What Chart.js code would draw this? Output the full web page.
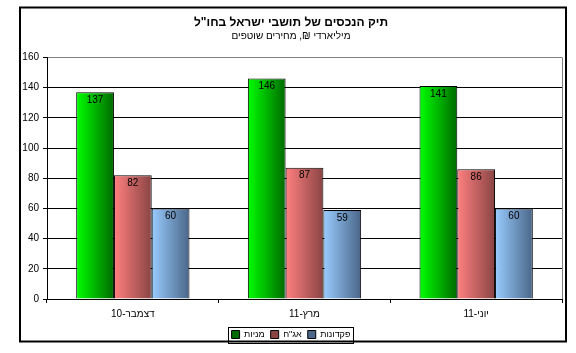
<!DOCTYPE html>
<html>
<head>
<meta charset="utf-8">
<script src="https://cdn.jsdelivr.net/npm/chart.js@4"></script>
<style>
  html, body { margin: 0; padding: 0; background: #fff; }
  #wrap { width: 576px; height: 353px; }
</style>
</head>
<body>
<div id="wrap"><canvas id="holdings-chart"></canvas></div>
<script>
const categories = ["דצמבר-10", "מרץ-11", "יוני-11"];
const stocks = [137, 146, 141];
const bonds = [82, 87, 86];
const deposits = [60, 59, 60];
const seriesNames = ["מניות", "אג\"ח", "פקדונות"];
const yTicks = [0, 20, 40, 60, 80, 100, 120, 140, 160];

const FONT = "Arial, 'Liberation Sans', sans-serif";
const CAT_PCT = 0.66;

// light -> dark colour for each series
const shades = [
  ["#00ff00", "#006a00"],
  ["#ff8080", "#8a4444"],
  ["#99ccff", "#4a6688"],
];

function barGradient(c) {
  const chart = c.chart;
  const x = chart.scales.x;
  if (!chart.chartArea || !x) return shades[c.datasetIndex][0];
  const center = x.getPixelForValue(c.dataIndex);
  const group = (x.width / categories.length) * CAT_PCT;
  const barW = group / 3;
  const left = center - group / 2 + c.datasetIndex * barW;
  const g = chart.ctx.createLinearGradient(left, 0, left + barW, 0);
  g.addColorStop(0, shades[c.datasetIndex][0]);
  g.addColorStop(1, shades[c.datasetIndex][1]);
  return g;
}

// frame, right border, legend box, value labels
const extras = {
  id: "extras",
  afterDraw(chart) {
    const c = chart.ctx;
    const a = chart.chartArea;
    c.save();
    c.strokeStyle = "#808080";
    c.lineWidth = 1;
    c.beginPath();
    c.moveTo(Math.round(a.right) + 0.5, a.top);
    c.lineTo(Math.round(a.right) + 0.5, a.bottom);
    c.stroke();

    c.strokeStyle = "#000";
    c.lineWidth = 2;
    c.strokeRect(20, 7.5, 546, 334);

    const hb = chart.legend.legendHitBoxes;
    if (hb && hb.length) {
      const l = Math.min(...hb.map(h => h.left)) - 4;
      const r = Math.max(...hb.map(h => h.left + h.width)) + 2;
      const t = hb[0].top - 3;
      c.lineWidth = 1;
      c.strokeRect(Math.round(l) + 0.5, Math.round(t) + 0.5, Math.round(r - l), 16);
    }

    c.fillStyle = "#000";
    c.font = "10px " + FONT;
    c.textAlign = "center";
    c.textBaseline = "middle";
    chart.data.datasets.forEach((ds, i) => {
      chart.getDatasetMeta(i).data.forEach((bar, j) => {
        c.fillText(String(ds.data[j]), bar.x, bar.y + 8);
      });
    });
    c.restore();
  }
};

new Chart(document.getElementById("holdings-chart"), {
  type: "bar",
  data: {
    labels: categories,
    datasets: [
      { label: seriesNames[0], data: stocks },
      { label: seriesNames[1], data: bonds },
      { label: seriesNames[2], data: deposits },
    ].map((d, i) => ({
      ...d,
      backgroundColor: barGradient,
      borderColor: "#000",
      borderWidth: 1,
      borderSkipped: "bottom",
      categoryPercentage: CAT_PCT,
      barPercentage: 1,
    })),
  },
  plugins: [extras],
  options: {
    responsive: true,
    maintainAspectRatio: false,
    animation: false,
    layout: { padding: { left: 20, right: 14, top: 8, bottom: 4 } },
    scales: {
      x: {
        grid: { offset: true, drawOnChartArea: false, drawTicks: true, tickLength: 4, color: "#000" },
        border: { color: "#000", width: 1 },
        ticks: { color: "#000", font: { family: FONT, size: 10 }, padding: 5 },
        afterFit: s => { s.height = 25; },
      },
      y: {
        min: 0,
        max: 160,
        afterBuildTicks: s => { s.ticks = yTicks.map(v => ({ value: v })); },
        grid: {
          color: c => (c.tick && c.tick.value === 160 ? "#808080" : "#000"),
          tickLength: 4,
          tickColor: "#000",
        },
        border: { color: "#000", width: 1 },
        ticks: { color: "#000", font: { family: FONT, size: 10 }, padding: 4 },
        afterFit: s => { s.width = 27; },
      },
    },
    plugins: {
      legend: {
        position: "bottom",
        labels: {
          color: "#000",
          font: { family: FONT, size: 9 },
          boxWidth: 8,
          boxHeight: 8,
          padding: 6,
        },
      },
      title: {
        display: true,
        text: "תיק הנכסים של תושבי ישראל בחו\"ל",
        color: "#000",
        font: { family: FONT, size: 12, weight: "bold" },
        padding: { top: 7, bottom: 1 },
      },
      subtitle: {
        display: true,
        text: "מיליארדי ₪, מחירים שוטפים",
        color: "#000",
        font: { family: FONT, size: 10 },
        padding: { top: 0, bottom: 15 },
      },
      tooltip: { enabled: false },
    },
  },
});
</script>
</body>
</html>
